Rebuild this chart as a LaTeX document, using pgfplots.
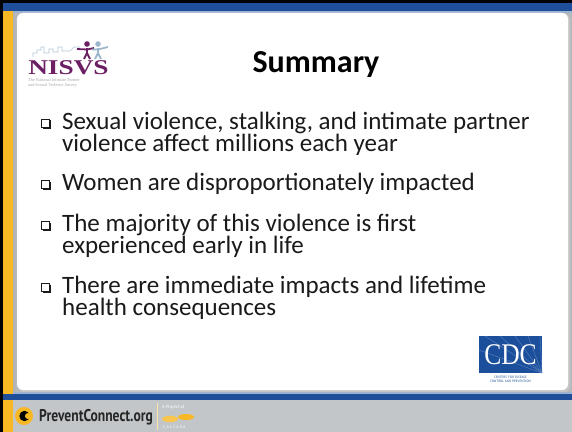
\documentclass[border=0pt]{standalone}
\usepackage{pgfplots}
\pgfplotsset{compat=1.18}
\usepackage{fontspec}
\setmainfont{Carlito}
\newfontfamily\serifb{Liberation Serif}
\newfontfamily\ptsans{PT Sans}
\definecolor{bandblue}{HTML}{1F4E9A}
\definecolor{bandlight}{HTML}{9DB2CF}
\definecolor{slidegray}{HTML}{C3C6C9}
\definecolor{edgegray}{HTML}{B5B9BD}
\definecolor{gold}{HTML}{F7B824}
\definecolor{nisvs}{HTML}{6C1F63}
\definecolor{skyblue}{HTML}{9CB6CC}
\definecolor{cdcblue}{HTML}{1B4E9B}
\definecolor{txt}{HTML}{1A1A1A}
\definecolor{raylight}{HTML}{5A82BE}
\newcommand{\bodyfont}{\fontsize{25bp}{28bp}\selectfont}
\begin{document}
\begin{tikzpicture}
\begin{axis}[
  scale only axis, width=572bp, height=432bp,
  xmin=0, xmax=572, ymin=0, ymax=432, y dir=reverse,
  hide axis, clip=false]
% background
\fill[slidegray] (axis cs:0,0) rectangle (axis cs:572,432);
\fill[edgegray] (axis cs:13,11) rectangle (axis cs:572,395);
% top bands
\fill[black] (axis cs:0,0) rectangle (axis cs:572,3);
\fill[bandblue] (axis cs:0,3) rectangle (axis cs:572,11);
\fill[bandlight] (axis cs:13,11) rectangle (axis cs:572,13);
% panel shadow and panel
\fill[gray!45, rounded corners=6bp] (axis cs:18,14) rectangle (axis cs:570,392);
\fill[white, rounded corners=6bp] (axis cs:17,13) rectangle (axis cs:568,390);
% bottom bands
\fill[bandlight] (axis cs:0,392) rectangle (axis cs:572,393.5);
\fill[bandblue] (axis cs:0,393.5) rectangle (axis cs:572,400);
\fill[slidegray] (axis cs:0,400) rectangle (axis cs:572,432);
% left strips
\fill[black] (axis cs:0,0) rectangle (axis cs:3,432);
\fill[gold] (axis cs:3,11) rectangle (axis cs:13,393.5);
\fill[gold] (axis cs:3,400) rectangle (axis cs:13,432);
\fill[gray!60] (axis cs:13,13) rectangle (axis cs:15,392);
% NISVS logo
\draw[skyblue!80, line width=0.6bp] (axis cs:33,57) -- (axis cs:33,53) -- (axis cs:37,53) -- (axis cs:37,50) -- (axis cs:41,50) -- (axis cs:41,47) -- (axis cs:44,47) -- (axis cs:44,53) -- (axis cs:49,53) -- (axis cs:49,49) -- (axis cs:53,49) -- (axis cs:53,52) -- (axis cs:58,52) -- (axis cs:58,47) -- (axis cs:62,47) -- (axis cs:62,51) -- (axis cs:70,51) -- (axis cs:74,47) -- (axis cs:80,47);
\fill[nisvs] (axis cs:87,44) circle[radius=2.8bp];
\draw[nisvs, line width=2.8bp] (axis cs:87,48) -- (axis cs:87,54);
\draw[nisvs, line width=1.8bp] (axis cs:77,49) -- (axis cs:87,49.5) -- (axis cs:94,48);
\draw[nisvs, line width=1.8bp] (axis cs:87,53) -- (axis cs:84,59);
\draw[nisvs, line width=1.8bp] (axis cs:87,53) -- (axis cs:90,59);
\fill[skyblue] (axis cs:98,44) circle[radius=2.8bp];
\draw[skyblue, line width=2.8bp] (axis cs:98,48) -- (axis cs:98,54);
\draw[skyblue, line width=1.8bp] (axis cs:92,49.5) -- (axis cs:98,49.5) -- (axis cs:108,47);
\draw[skyblue, line width=1.8bp] (axis cs:98,53) -- (axis cs:95,59);
\draw[skyblue, line width=1.8bp] (axis cs:98,53) -- (axis cs:101,59);
\node[anchor=base west, inner sep=0pt, text=nisvs, xscale=1.3] at (axis cs:28,75) {\serifb\bfseries\fontsize{21bp}{21bp}\selectfont NISVS};
\node[anchor=base west, inner sep=0pt, text=gray!70] at (axis cs:28,81.5) {\serifb\fontsize{4.3bp}{4.8bp}\selectfont The National Intimate Partner};
\node[anchor=base west, inner sep=0pt, text=gray!70] at (axis cs:28,86.5) {\serifb\fontsize{4.3bp}{4.8bp}\selectfont and Sexual Violence Survey};
% title
\node[anchor=base, inner sep=0pt, text=black] at (axis cs:316,73) {\bfseries\fontsize{32bp}{32bp}\selectfont Summary};
% bullets (shadowed square)
\fill[txt] (axis cs:42.5,120.5) rectangle (axis cs:50.5,128.5);
\filldraw[fill=white, draw=txt, line width=0.7bp] (axis cs:41,119) rectangle (axis cs:49,127);
\fill[txt] (axis cs:42.5,181.5) rectangle (axis cs:50.5,189.5);
\filldraw[fill=white, draw=txt, line width=0.7bp] (axis cs:41,180) rectangle (axis cs:49,188);
\fill[txt] (axis cs:42.5,222.5) rectangle (axis cs:50.5,230.5);
\filldraw[fill=white, draw=txt, line width=0.7bp] (axis cs:41,221) rectangle (axis cs:49,229);
\fill[txt] (axis cs:42.5,284.5) rectangle (axis cs:50.5,292.5);
\filldraw[fill=white, draw=txt, line width=0.7bp] (axis cs:41,283) rectangle (axis cs:49,291);
% text
\node[anchor=base west, inner sep=0pt, text=txt] at (axis cs:62,129) {\bodyfont Sexual violence, stalking, and intimate partner};
\node[anchor=base west, inner sep=0pt, text=txt] at (axis cs:62,151) {\bodyfont violence affect millions each year};
\node[anchor=base west, inner sep=0pt, text=txt] at (axis cs:62,190) {\bodyfont Women are disproportionately impacted};
\node[anchor=base west, inner sep=0pt, text=txt] at (axis cs:62,231) {\bodyfont The majority of this violence is first};
\node[anchor=base west, inner sep=0pt, text=txt] at (axis cs:62,253) {\bodyfont experienced early in life};
\node[anchor=base west, inner sep=0pt, text=txt] at (axis cs:62,293) {\bodyfont There are immediate impacts and lifetime};
\node[anchor=base west, inner sep=0pt, text=txt] at (axis cs:62,315) {\bodyfont health consequences};
% CDC logo
\fill[cdcblue] (axis cs:479,336) rectangle (axis cs:542,373);
\draw[raylight, line width=0.4bp] (axis cs:542,373) -- (axis cs:500,336);
\draw[raylight, line width=0.4bp] (axis cs:542,373) -- (axis cs:515,336);
\draw[raylight, line width=0.4bp] (axis cs:542,373) -- (axis cs:528,336);
\draw[raylight, line width=0.4bp] (axis cs:542,373) -- (axis cs:540,336);
\draw[raylight, line width=0.4bp] (axis cs:542,373) -- (axis cs:485,336);
\draw[raylight, line width=0.4bp] (axis cs:542,373) -- (axis cs:479,350);
\node[anchor=center, inner sep=0pt, text=white, xscale=0.85] at (axis cs:510.5,355) {\serifb\fontsize{30bp}{30bp}\selectfont CDC};
\node[anchor=base, inner sep=0pt, text=cdcblue] at (axis cs:510.5,378) {\ptsans\fontsize{3.3bp}{3.6bp}\selectfont CENTERS FOR DISEASE};
\node[anchor=base, inner sep=0pt, text=cdcblue] at (axis cs:510.5,382) {\ptsans\fontsize{3.3bp}{3.6bp}\selectfont CONTROL AND PREVENTION};
% footer
\fill[gold] (axis cs:24,416) circle[radius=9bp];
\fill[black] (axis cs:24.5,416) circle[radius=5.2bp];
\fill[gold] (axis cs:28,416) circle[radius=3bp];
\node[anchor=base west, inner sep=0pt, text=black!85, xscale=0.8] at (axis cs:39,421) {\ptsans\bfseries\fontsize{17bp}{17bp}\selectfont PreventConnect.org};
\draw[white!60!gold, line width=0.8bp] (axis cs:157,403) -- (axis cs:157,430);
\node[anchor=base west, inner sep=0pt, text=white] at (axis cs:162,408) {\ptsans\fontsize{4.5bp}{5bp}\selectfont A Project of};
\fill[gold!80] (axis cs:170,419) ellipse[x radius=8bp, y radius=3.2bp];
\fill[gold] (axis cs:186,417) ellipse[x radius=8bp, y radius=3bp];
\node[anchor=base west, inner sep=0pt, text=white] at (axis cs:163,428) {\ptsans\fontsize{4bp}{5bp}\selectfont C A L C A S A};
\end{axis}
\end{tikzpicture}
\end{document}
